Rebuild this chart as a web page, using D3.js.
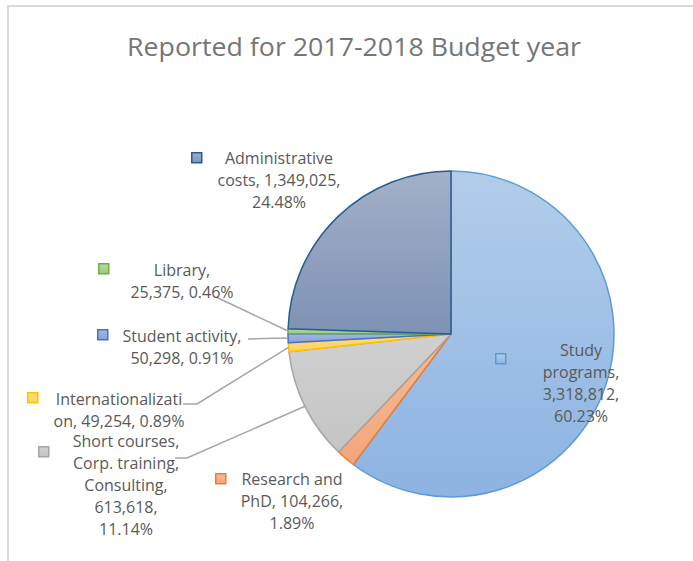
<!DOCTYPE html>
<html>
<head>
<meta charset="utf-8">
<script src="https://cdn.jsdelivr.net/npm/d3@7"></script>
<style>
  html, body { margin: 0; padding: 0; background: #ffffff; }
  svg { display: block; }
</style>
</head>
<body>
<svg id="chart" width="693" height="561"></svg>
<script>
// Budget categories, in drawing order (clockwise from 12 o'clock)
const categories = [
  "Study programs",
  "Research and PhD",
  "Short courses, Corp. training, Consulting",
  "Internationalization",
  "Student activity",
  "Library",
  "Administrative costs"
];
const values = [3318812, 104266, 613618, 49254, 50298, 25375, 1349025];

// Office-style palette: fill gradient (top, bottom) and outline
const fillTop    = ["#b2cdea", "#f6bc9a", "#d0d0d0", "#ffdc85", "#a4b6e2", "#b5d89c", "#a3b0c8"];
const fillBottom = ["#8db3e2", "#f3a57b", "#c4c4c4", "#ffd35e", "#8aa3da", "#9dcb80", "#7e92b5"];
const outline    = ["#5b9bd5", "#ed7d31", "#a5a5a5", "#ffc000", "#4472c4", "#70ad47", "#255e91"];

const title = "Reported for 2017-2018 Budget year";

// Line lengths (in characters) used to wrap each data label
const labelWrap = [
  [5, 9, 10, 6],
  [12, 13, 5],
  [14, 15, 11, 8, 6],
  [18, 17],
  [17, 13],
  [8, 13],
  [14, 17, 6]
];

// Label placement: text centre x, first baseline y, legend key x/y, leader line anchor points
const labelLayout = [
  { tx: 581, ty: 356, kx: 495, ky: 353, leader: null },
  { tx: 292, ty: 485, kx: 215, ky: 473, leader: null },
  { tx: 126, ty: 447, kx: 38,  ky: 446, leader: [[175, 458], [187, 458]] },
  { tx: 119, ty: 405, kx: 27,  ky: 392, leader: [[183, 404], [197, 404]] },
  { tx: 182, ty: 342, kx: 97,  ky: 329, leader: [[248, 339]] },
  { tx: 182, ty: 276, kx: 98,  ky: 263, leader: [[216, 297]] },
  { tx: 279, ty: 164, kx: 191, ky: 152, leader: null }
];

const W = 693, H = 561;
const cx = 451, cy = 334, R = 163;
const lineH = 22;
const labelFont = "'Open Sans', 'Noto Sans', sans-serif";

const svg = d3.select("#chart");
const defs = svg.append("defs");

// chart frame
svg.append("rect")
  .attr("x", 8).attr("y", 6)
  .attr("width", W + 10).attr("height", H + 10)
  .attr("fill", "#ffffff")
  .attr("stroke", "#d9d9d9")
  .attr("stroke-width", 2);

// title
svg.append("text")
  .attr("x", 354).attr("y", 56)
  .attr("text-anchor", "middle")
  .attr("font-family", labelFont)
  .attr("font-size", 26)
  .attr("fill", "#757575")
  .attr("textLength", 454)
  .attr("lengthAdjust", "spacingAndGlyphs")
  .text(title);

const total = d3.sum(values);
const pct = v => (v / total * 100).toFixed(2) + "%";
const fmt = d3.format(",");

const data = categories.map((c, i) => ({ name: c, value: values[i], i }));

// per-slice vertical gradients
data.forEach(d => {
  const g = defs.append("linearGradient")
    .attr("id", "grad" + d.i)
    .attr("x1", 0).attr("y1", 0).attr("x2", 0).attr("y2", 1);
  g.append("stop").attr("offset", "0%").attr("stop-color", fillTop[d.i]);
  g.append("stop").attr("offset", "100%").attr("stop-color", fillBottom[d.i]);
});

const pie = d3.pie().value(d => d.value).sort(null);
const arcs = pie(data);
const arc = d3.arc().innerRadius(0).outerRadius(R);

const g = svg.append("g").attr("transform", `translate(${cx},${cy})`);
g.selectAll("path.slice")
  .data(arcs)
  .join("path")
  .attr("class", "slice")
  .attr("d", arc)
  .attr("fill", d => `url(#grad${d.data.i})`)
  .attr("stroke", d => outline[d.data.i])
  .attr("stroke-width", 1.5)
  .attr("stroke-linejoin", "round");

// leader lines: from label anchor(s) to the slice's outer-arc midpoint
arcs.forEach(a => {
  const lay = labelLayout[a.data.i];
  if (!lay.leader) return;
  const mid = (a.startAngle + a.endAngle) / 2;
  const edge = [cx + R * Math.sin(mid), cy - R * Math.cos(mid)];
  const pts = lay.leader.concat([edge]);
  svg.append("path")
    .attr("d", d3.line()(pts))
    .attr("fill", "none")
    .attr("stroke", "#a6a6a6")
    .attr("stroke-width", 1.5);
});

// wrap a label string into lines of the given character lengths
function wrapLabel(str, lengths) {
  const out = [];
  let pos = 0;
  lengths.forEach(n => {
    out.push(str.slice(pos, pos + n));
    pos += n;
    if (str[pos] === " ") pos += 1;
  });
  return out;
}

// data labels with legend keys
data.forEach(d => {
  const lay = labelLayout[d.i];
  const full = `${d.name}, ${fmt(d.value)}, ${pct(d.value)}`;
  const lines = wrapLabel(full, labelWrap[d.i]);

  svg.append("rect")
    .attr("x", lay.kx + 0.75).attr("y", lay.ky + 0.75)
    .attr("width", 10).attr("height", 10)
    .attr("fill", `url(#grad${d.i})`)
    .attr("stroke", outline[d.i])
    .attr("stroke-width", 1.5);

  const t = svg.append("text")
    .attr("text-anchor", "middle")
    .attr("font-family", labelFont)
    .attr("font-size", 16)
    .attr("fill", "#595959");
  lines.forEach((ln, k) => {
    t.append("tspan")
      .attr("x", lay.tx)
      .attr("y", lay.ty + k * lineH)
      .text(ln);
  });
});
</script>
</body>
</html>
